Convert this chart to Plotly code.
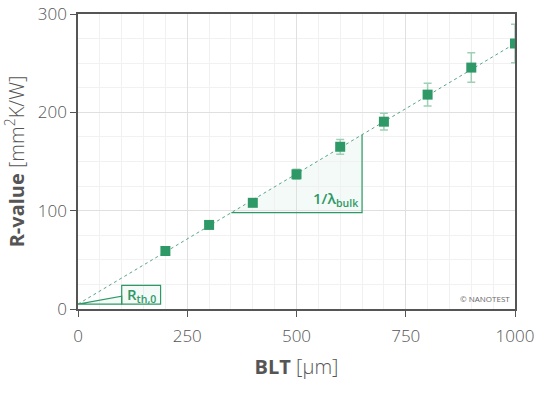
import plotly.graph_objects as go

blt = [200, 300, 400, 500, 600, 700, 800, 900, 1000]
r_value = [59, 85.5, 108, 137, 165, 190.5, 218, 245.5, 270]
r_err = [1.5, 1.5, 3, 5, 7.5, 8.5, 11.5, 15, 19.5]

fit_x = [0, 1000]
fit_y = [5, 270]

GREEN = "#2e9966"
font_family = "Open Sans, DejaVu Sans, sans-serif"

fig = go.Figure()

# fit line
fig.add_trace(go.Scatter(x=fit_x, y=fit_y, mode="lines",
                         line=dict(color="#5aa586", width=1, dash="3px,3px"),
                         showlegend=False, hoverinfo="skip"))

def fit_at(x):
    return fit_y[0] + (fit_y[1] - fit_y[0]) * (x - fit_x[0]) / (fit_x[1] - fit_x[0])

tri_base_y = 98
tri_x1 = 650
tri_x0 = (tri_base_y - fit_y[0]) / ((fit_y[1] - fit_y[0]) / 1000)
fig.add_shape(type="path",
              path=f"M {tri_x0},{tri_base_y} L {tri_x1},{tri_base_y} L {tri_x1},{fit_at(tri_x1)} Z",
              fillcolor="rgba(46,153,102,0.05)", line=dict(width=0), layer="below")
fig.add_shape(type="path",
              path=f"M {tri_x0},{tri_base_y} L {tri_x1},{tri_base_y} L {tri_x1},{fit_at(tri_x1)}",
              line=dict(color=GREEN, width=1.2), layer="above")
fig.add_annotation(x=tri_x1 - 5, y=tri_base_y + 1, xanchor="right", yanchor="bottom",
                   text="1/λ<sub>bulk</sub>", showarrow=False,
                   font=dict(family=font_family, size=15, color=GREEN, weight=600))

# R_th,0 marker
fig.add_shape(type="path", path="M 0,5 L 100,13 L 100,5 Z",
              fillcolor="rgba(46,153,102,0.05)", line=dict(color=GREEN, width=1.2))
fig.add_shape(type="rect", x0=100, x1=189, y0=5, y1=24,
              fillcolor="rgba(46,153,102,0.05)", line=dict(color=GREEN, width=1.2))
fig.add_annotation(x=144.5, y=14.5, text="R<sub>th,0</sub>", showarrow=False,
                   font=dict(family=font_family, size=15, color=GREEN, weight=600))

# data
fig.add_trace(go.Scatter(x=blt, y=r_value, mode="markers",
                         marker=dict(symbol="square", size=10, color=GREEN),
                         error_y=dict(type="data", array=r_err, color="#9fd0b6",
                                      thickness=1.5, width=4),
                         showlegend=False))

fig.add_annotation(x=1, y=0, xref="paper", yref="paper", xanchor="right", yanchor="bottom",
                   xshift=-3, yshift=3, text="© NANOTEST", showarrow=False,
                   font=dict(family=font_family, size=8, color="#666"))

fig.update_layout(
    width=554, height=394,
    margin=dict(l=78, r=39, t=14, b=85),
    paper_bgcolor="white", plot_bgcolor="white",
    font=dict(family=font_family, color="#555"),
)
fig.update_xaxes(range=[0, 1000], tickvals=[0, 250, 500, 750, 1000], automargin=False,
                 showline=True, linecolor="#555", linewidth=1.5, mirror=True,
                 ticks="outside", ticklen=6, tickcolor="#555", ticklabelstandoff=5,
                 gridcolor="#e0e0e0", gridwidth=1,
                 minor=dict(dtick=50, showgrid=True, gridcolor="#f1f1f1"),
                 tickfont=dict(size=17, color="#555", weight=300),
                 title=dict(text="<b>BLT</b> [µm]", font=dict(size=20, color="#555", weight=300), standoff=14),
                 zeroline=False)
fig.update_yaxes(range=[0, 300], tickvals=[0, 100, 200, 300], automargin=False,
                 showline=True, linecolor="#555", linewidth=1.5, mirror=True,
                 ticks="outside", ticklen=6, tickcolor="#555",
                 gridcolor="#e0e0e0", gridwidth=1,
                 minor=dict(dtick=25, showgrid=True, gridcolor="#f1f1f1"),
                 tickfont=dict(size=17, color="#555", weight=300),
                 title=dict(text="<b>R-value</b> [mm<sup>2</sup>K/W]", font=dict(size=20, color="#555", weight=300), standoff=8),
                 zeroline=False)

fig.write_html("out.html", post_script="document.body.style.margin='0';",
               config={"displayModeBar": False})
